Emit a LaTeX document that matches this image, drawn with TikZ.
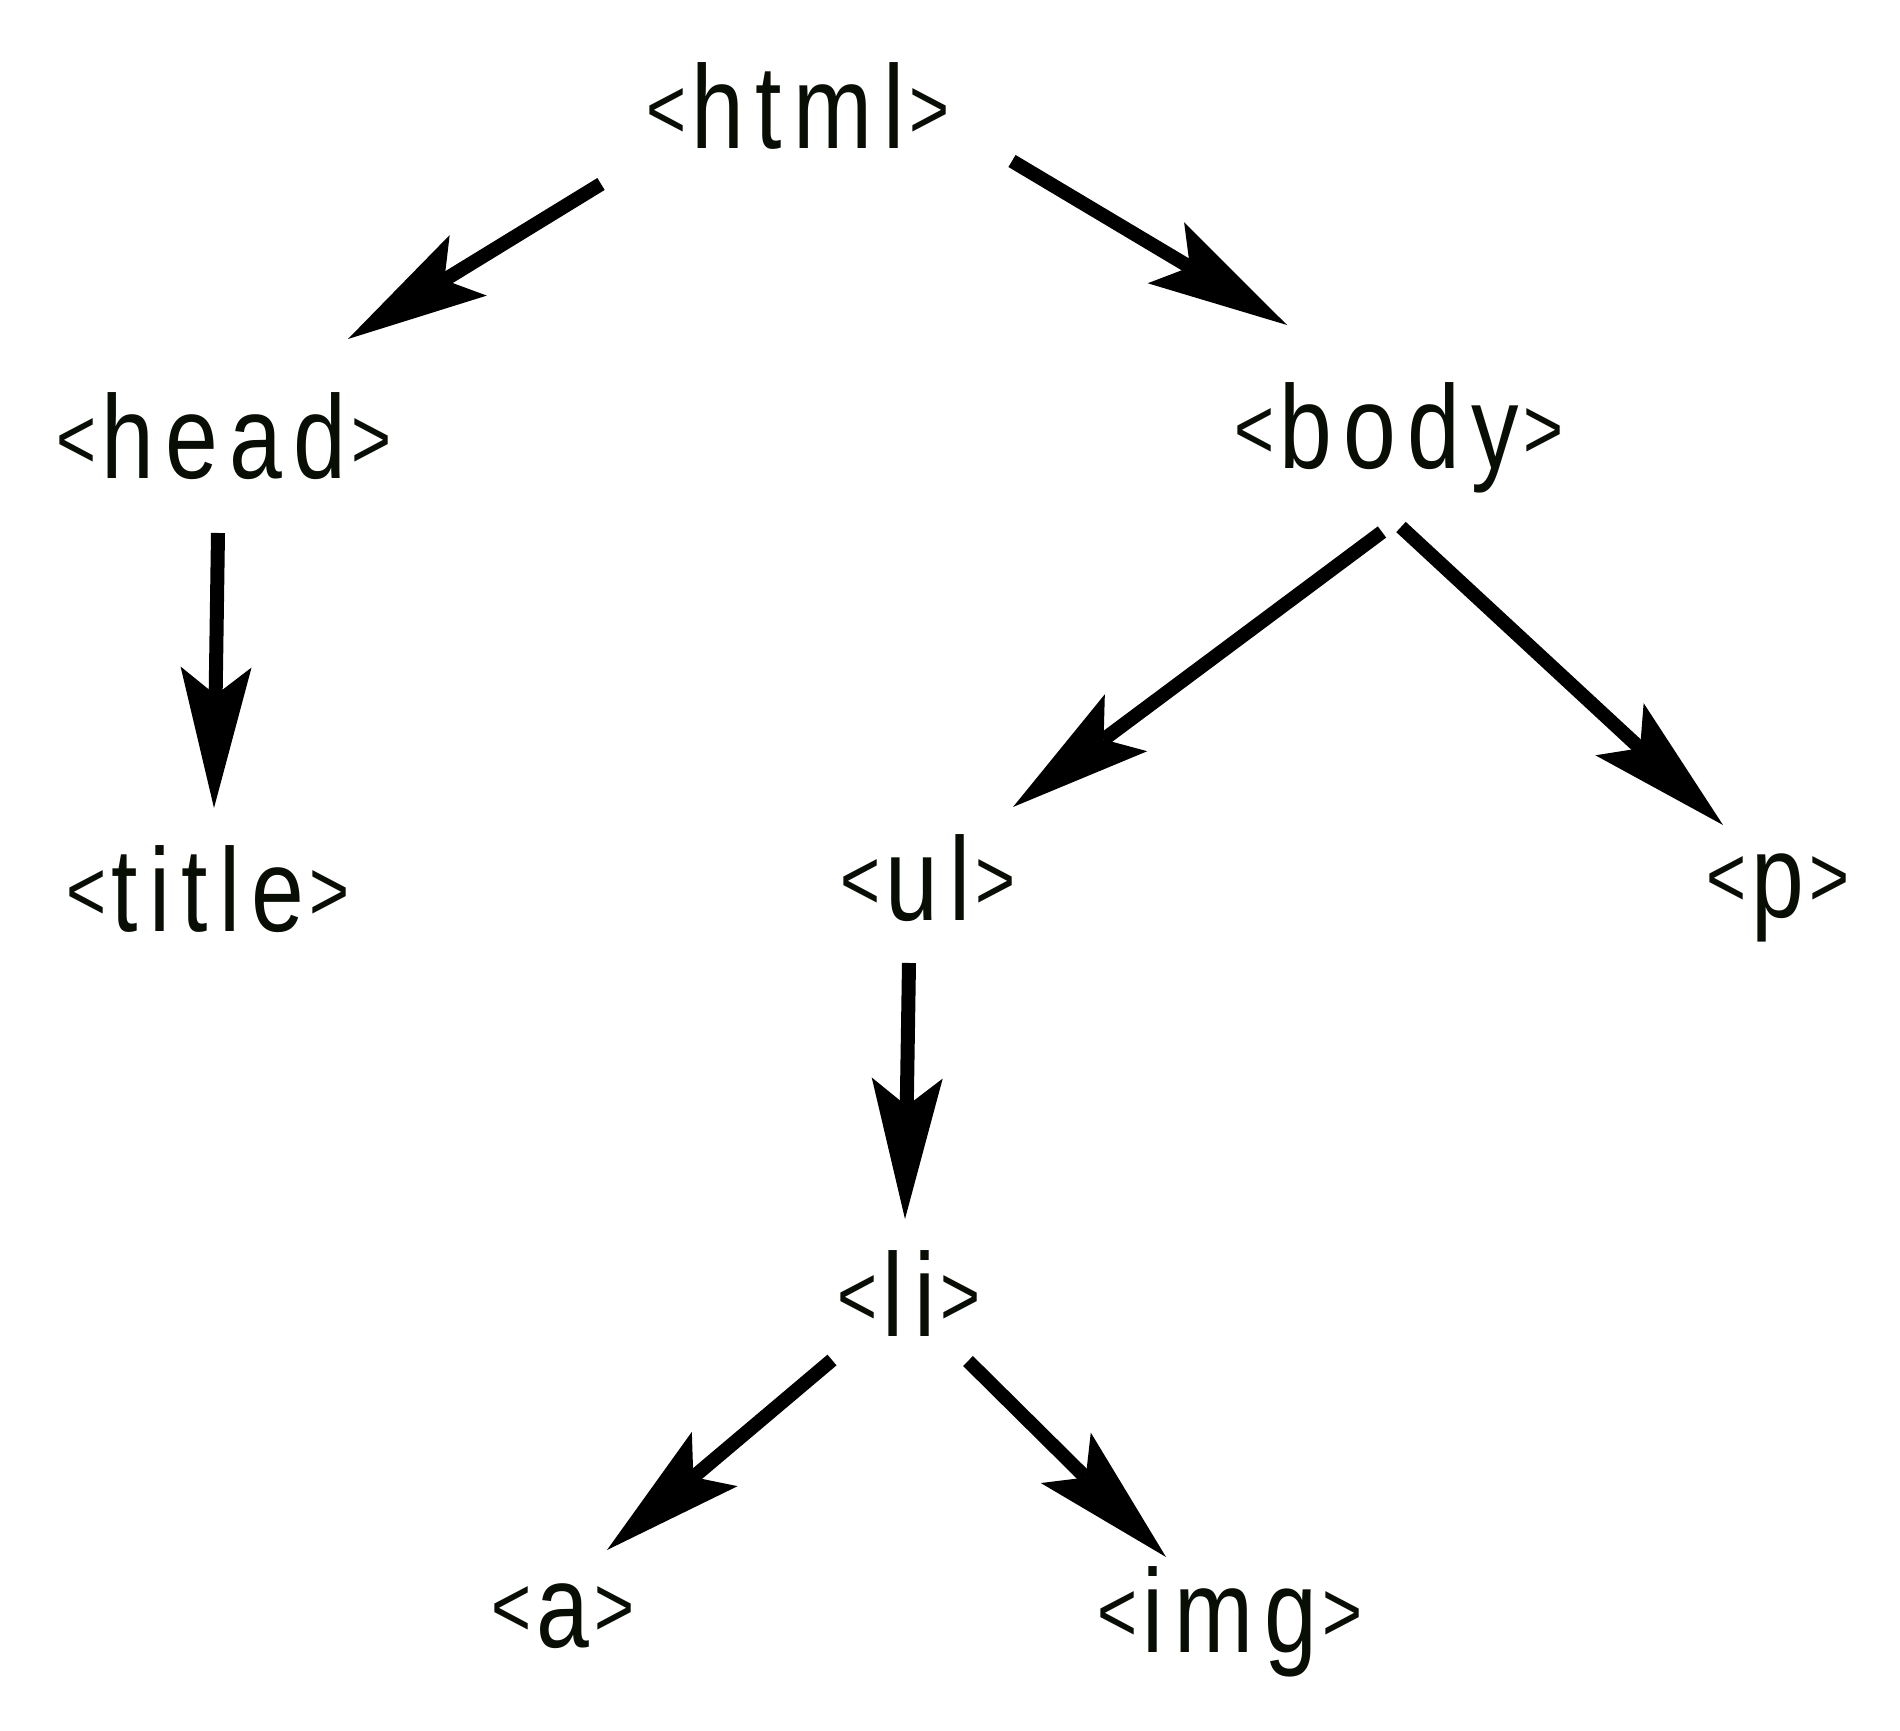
\documentclass[tikz,border=0pt]{standalone}
\usepackage{fontspec}
\setmainfont{Liberation Sans}
\newfontfamily\tagfont[LetterSpace=12]{Liberation Sans}
\usetikzlibrary{arrows.meta}
\definecolor{tagink}{RGB}{8,14,4}
% smaller, raised angle brackets around a tag name
\newcommand{\brk}[1]{\raisebox{2.4pt}{\fontsize{19.5}{24}\selectfont #1}}
\newcommand{\tagtext}[1]{\scalebox{1}[1.25]{\brk{<}\kern1.4pt#1\kern1.4pt\brk{>}}}
\begin{document}
\begin{tikzpicture}[x=0.1mm, y=-0.1mm,
  tag/.style={anchor=base, inner sep=0pt, text=tagink,
    font=\tagfont\fontsize{27}{32}\selectfont},
  arr/.style={line width=1.4mm, black,
    -{Stealth[length=14.1mm, width=7.1mm, inset=2.8mm, line width=0pt]}}]
  \useasboundingbox (0,0) rectangle (1900,1731);

  % tree of HTML elements
  \node[tag] (html)  at (798,149)   {\tagtext{html}};
  \node[tag] (head)  at (224,479)   {\tagtext{head}};
  \node[tag] (body)  at (1399,469)  {\tagtext{body}};
  \node[tag] (title) at (208,931)   {\tagtext{title}};
  \node[tag] (ul)    at (928,920)   {\tagtext{ul}};
  \node[tag] (p)     at (1778,917)  {\tagtext{p}};
  \node[tag] (li)    at (909,1336)  {\tagtext{li}};
  \node[tag] (a)     at (563,1647)  {\tagtext{a}};
  \node[tag] (img)   at (1230,1652) {\tagtext{img}};

  % parent -> child links
  \draw[arr] ([shift={(-197,35)}]html.base) -- ([shift={(124,-140)}]head.base);
  \draw[arr] ([shift={(214,12)}]html.base)  -- ([shift={(-112,-144)}]body.base);
  \draw[arr] ([shift={(-6,54)}]head.base)   -- ([shift={(6,-123)}]title.base);
  \draw[arr] ([shift={(-17,63)}]body.base)  -- ([shift={(85,-113)}]ul.base);
  \draw[arr] ([shift={(2,58)}]body.base)    -- ([shift={(-55,-92)}]p.base);
  \draw[arr] ([shift={(-19,43)}]ul.base)    -- ([shift={(-4,-117)}]li.base);
  \draw[arr] ([shift={(-77,24)}]li.base)    -- ([shift={(44,-97)}]a.base);
  \draw[arr] ([shift={(59,25)}]li.base)     -- ([shift={(-64,-95)}]img.base);
\end{tikzpicture}
\end{document}
